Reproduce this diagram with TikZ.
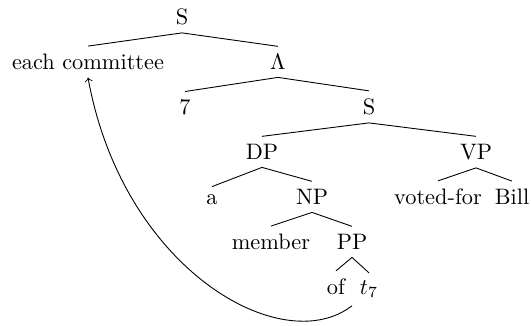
\documentclass[tikz,border=0pt]{standalone}
\begin{document}
\begin{tikzpicture}[x=0.4476pt,y=-0.4476pt,
  tn/.style={anchor=base, inner sep=0.3333em},
  br/.style={draw, line width=0.4pt},
  mv/.style={->, line width=0.4pt}]
\useasboundingbox (0,0) rectangle (531,325);
\node[tn] (s0) at (182,24.5) {S};
\node[tn] (ec) at (88,69.5) {each committee};
\node[tn] (lam) at (278,69.5) {$\Lambda$};
\node[tn] (seven) at (185,114.5) {7};
\node[tn] (s1) at (369,114.5) {S};
\node[tn] (dp) at (262,159.5) {DP};
\node[tn] (vp) at (476,159.5) {VP};
\node[tn] (a) at (212,204.5) {a};
\node[tn] (np) at (312,204.5) {NP};
\node[tn] (voted) at (438,204.5) {voted-for};
\node[tn] (bill) at (512,204.5) {Bill};
\node[tn] (member) at (271,249.5) {member};
\node[tn] (pp) at (352,249.5) {PP};
\node[tn] (of) at (336,294.5) {of};
\node[tn] (t7) at (369,294.5) {$t_7$};
\draw[br] (s0.south) -- (ec.north);
\draw[br] (s0.south) -- (lam.north);
\draw[br] (lam.south) -- (seven.north);
\draw[br] (lam.south) -- (s1.north);
\draw[br] (s1.south) -- (dp.north);
\draw[br] (s1.south) -- (vp.north);
\draw[br] (dp.south) -- (a.north);
\draw[br] (dp.south) -- (np.north);
\draw[br] (vp.south) -- (voted.north);
\draw[br] (vp.south) -- (bill.north);
\draw[br] (np.south) -- (member.north);
\draw[br] (np.south) -- (pp.north);
\draw[br] (pp.south) -- (of.north);
\draw[br] (pp.south) -- (t7.north);
\draw[mv] (t7.south west) .. controls +(-70,54) and +(35,192) .. (ec.south);
\end{tikzpicture}
\end{document}
